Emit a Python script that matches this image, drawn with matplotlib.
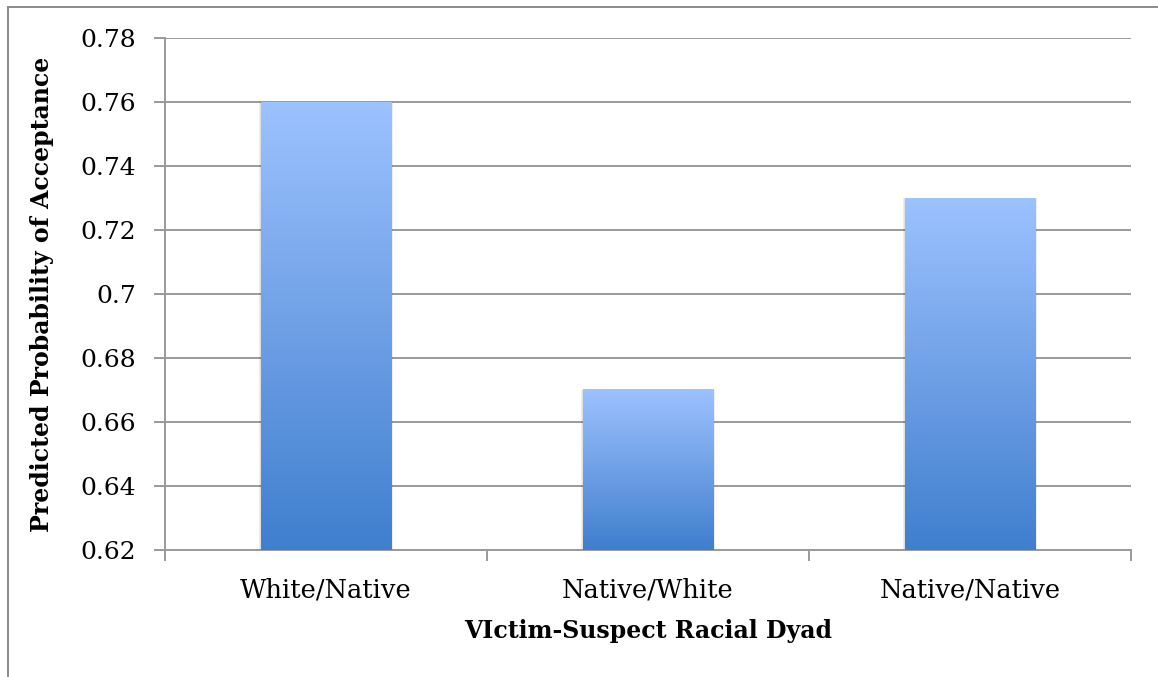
import numpy as np
import matplotlib
matplotlib.use("Agg")
import matplotlib.pyplot as plt
from matplotlib.colors import LinearSegmentedColormap
from matplotlib.lines import Line2D

categories = ["White/Native", "Native/White", "Native/Native"]
values = [0.76, 0.67, 0.73]
y_ticks = [0.62, 0.64, 0.66, 0.68, 0.70, 0.72, 0.74, 0.76, 0.78]
y_tick_labels = ["0.62", "0.64", "0.66", "0.68", "0.7", "0.72", "0.74", "0.76", "0.78"]

plt.rcParams["font.family"] = ["DejaVu Serif"]

fig = plt.figure(figsize=(11.58, 6.77), dpi=100)
ax = fig.add_axes([165 / 1158, 1 - 550 / 677, (1131 - 165) / 1158, (550 - 38) / 677])

ymin, ymax = 0.62, 0.78
ax.set_ylim(ymin, ymax)
ax.set_xlim(-0.5, len(categories) - 0.5)

grid_color = "#9a9a9a"
for t in y_ticks:
    ax.axhline(t, color=grid_color, lw=1.4, zorder=1)

cmap = LinearSegmentedColormap.from_list("bar", ["#3f7fce", "#6fa0e6", "#9cc2ff"])
grad = np.linspace(0, 1, 256).reshape(-1, 1)
width = 0.404
x = np.arange(len(categories))
bars = ax.bar(x, [v - ymin for v in values], width, bottom=ymin, color="none", zorder=3)
for b in bars:
    x0, w = b.get_x(), b.get_width()
    top = b.get_y() + b.get_height()
    # soft shadow
    for k, a in enumerate([0.05, 0.04, 0.03]):
        d = 0.004 * (k + 1)
        ax.add_patch(plt.Rectangle((x0 - d * 0.6, ymin), w + 2 * d * 0.6, top - ymin,
                                   facecolor="black", alpha=a, lw=0, zorder=2))
    ax.imshow(grad, cmap=cmap, origin="lower", aspect="auto",
              extent=(x0, x0 + w, ymin, top), zorder=3)

ax.set_xlim(-0.5, len(categories) - 0.5)
ax.set_ylim(ymin, ymax)

for s in ["top", "right"]:
    ax.spines[s].set_visible(False)
ax.spines["left"].set_color(grid_color)
ax.spines["bottom"].set_color(grid_color)
ax.spines["left"].set_linewidth(1.4)
ax.spines["bottom"].set_linewidth(1.4)

ax.set_yticks(y_ticks)
ax.set_yticklabels(y_tick_labels)
ax.tick_params(axis="y", length=8, width=1.4, color=grid_color, labelsize=18, pad=13)

ax.set_xticks(x)
ax.set_xticklabels(categories)
ax.tick_params(axis="x", length=0, labelsize=18.5, pad=20)
ax.set_xticks(np.arange(-0.5, len(categories)), minor=True)
ax.tick_params(axis="x", which="minor", length=8, width=1.4, color=grid_color)

ax.set_xlabel("VIctim-Suspect Racial Dyad", fontsize=17, fontweight="bold", labelpad=12)
ax.set_ylabel("Predicted Probability of Acceptance", fontsize=17, fontweight="bold", labelpad=19)

# outer frame of the chart area
fig.add_artist(Line2D([8 / 1158, 8 / 1158], [0, 1 - 7 / 677], color="#8a8a8a", lw=1.4))
fig.add_artist(Line2D([8 / 1158, 1], [1 - 7 / 677, 1 - 7 / 677], color="#8a8a8a", lw=1.4))

fig.savefig("out.png", dpi=100)
